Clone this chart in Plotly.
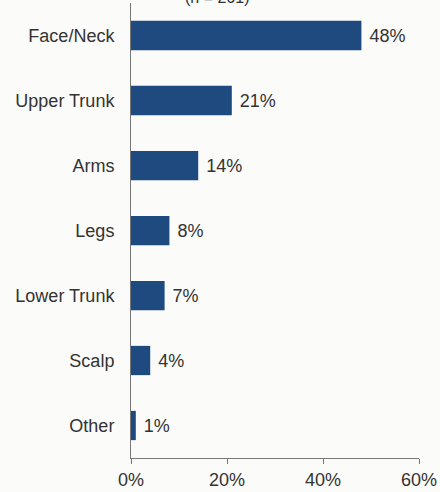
import plotly.graph_objects as go

categories = ["Face/Neck", "Upper Trunk", "Arms", "Legs", "Lower Trunk", "Scalp", "Other"]
values = [48, 21, 14, 8, 7, 4, 1]
labels = ["48%", "21%", "14%", "8%", "7%", "4%", "1%"]
tick_vals = [0, 20, 40, 60]
tick_text = ["0%", "20%", "40%", "60%"]

FONT = "Liberation Sans, Arial, sans-serif"

fig = go.Figure(go.Bar(
    x=values, y=categories, orientation="h",
    marker=dict(color="#1f4a7f", line=dict(width=0)),
    text=["\u00a0" + t for t in labels], textposition="outside", cliponaxis=False,
    textfont=dict(family=FONT, size=18, color="#333333"),
))

fig.add_annotation(text="(n = 261)", x=0.30, xref="paper", xanchor="center",
                   y=1, yref="paper", yanchor="bottom", yshift=-5, showarrow=False,
                   font=dict(family=FONT, size=16, color="#333333"))

fig.update_layout(
    width=440, height=492,
    margin=dict(l=131, r=21, t=3, b=34, autoexpand=False),
    paper_bgcolor="#fbfbf9", plot_bgcolor="#fbfbf9",
    bargap=0.55, showlegend=False,
    font=dict(family=FONT, size=18, color="#333333"),
)
fig.update_xaxes(range=[0, 60], tickvals=tick_vals, ticktext=tick_text, automargin=False,
                 showgrid=False, zeroline=False, showline=True, linecolor="#777777", linewidth=1,
                 ticks="outside", ticklen=5, tickcolor="#777777",
                 tickfont=dict(family=FONT, size=18, color="#333333"))
fig.update_yaxes(categoryorder="array", categoryarray=categories[::-1], automargin=False,
                 showgrid=False, showline=True, linecolor="#777777", linewidth=1,
                 ticks="", ticklabelstandoff=12,
                 tickfont=dict(family=FONT, size=18, color="#333333"))

fig.write_html("out.html", config={"displayModeBar": False},
               post_script="document.body.style.margin='0px';document.body.style.background='#fbfbf9';")
